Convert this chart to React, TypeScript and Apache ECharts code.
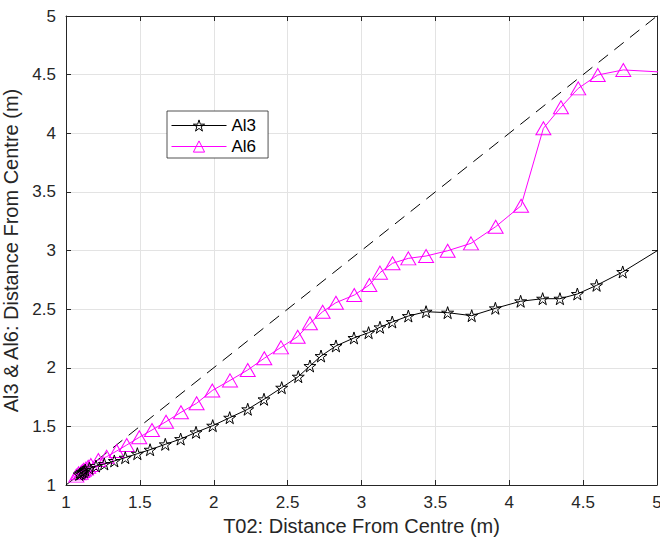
import React, { useEffect, useRef } from "react";
import * as echarts from "echarts";

const al3X = [1.09, 1.1, 1.11, 1.12, 1.13, 1.158, 1.203, 1.259, 1.327, 1.401, 1.483, 1.569, 1.672, 1.776, 1.88, 1.993, 2.108, 2.23, 2.34, 2.46, 2.572, 2.651, 2.726, 2.827, 2.949, 3.048, 3.125, 3.208, 3.317, 3.437, 3.583, 3.746, 3.906, 4.077, 4.226, 4.343, 4.461, 4.591, 4.768, 5.12];
const al3Y = [1.09, 1.1, 1.11, 1.115, 1.128, 1.142, 1.162, 1.179, 1.205, 1.233, 1.267, 1.301, 1.347, 1.392, 1.449, 1.506, 1.574, 1.646, 1.731, 1.83, 1.924, 2.015, 2.1, 2.186, 2.254, 2.299, 2.345, 2.39, 2.441, 2.478, 2.47, 2.444, 2.507, 2.567, 2.589, 2.589, 2.629, 2.703, 2.817, 3.09];

const al6X = [1.07, 1.085, 1.1, 1.11, 1.12, 1.135, 1.15, 1.168, 1.219, 1.275, 1.343, 1.411, 1.496, 1.582, 1.677, 1.778, 1.884, 1.99, 2.11, 2.23, 2.342, 2.455, 2.568, 2.651, 2.737, 2.827, 2.951, 3.053, 3.125, 3.21, 3.317, 3.437, 3.583, 3.741, 3.908, 4.08, 4.231, 4.35, 4.467, 4.599, 4.772, 5.2];
const al6Y = [1.08, 1.1, 1.105, 1.12, 1.13, 1.14, 1.155, 1.171, 1.213, 1.241, 1.29, 1.341, 1.407, 1.469, 1.54, 1.62, 1.697, 1.806, 1.892, 1.981, 2.081, 2.174, 2.265, 2.379, 2.478, 2.555, 2.62, 2.706, 2.811, 2.891, 2.933, 2.953, 2.998, 3.061, 3.203, 3.382, 4.042, 4.222, 4.383, 4.497, 4.54, 4.51];

const refX = [1, 5];
const refY = [1, 5];

const axisMin = 1;
const axisMax = 5;
const tickStep = 0.5;

const seriesNames = ["Al3", "Al6"];
const xTitle = "T02: Distance From Centre (m)";
const yTitle = "Al3 & Al6: Distance From Centre (m)";

const STAR =
  "path://M50,0 L61.2,34.5 L97.6,34.5 L68.2,55.9 L79.4,90.5 L50,69.1 L20.6,90.5 L31.8,55.9 L2.4,34.5 L38.8,34.5 Z";

const FONT = "Liberation Sans, Arial, Helvetica, sans-serif";
const AXIS_COLOR = "#262626";
const CLEAR = "rgba(255,255,255,0)";

export default function App() {
  const ref = useRef<HTMLDivElement>(null);

  useEffect(() => {
    if (!ref.current) return;
    const chart = echarts.init(ref.current, undefined, { renderer: "svg" });
    const zip = (xs: number[], ys: number[]) => xs.map((x, i) => [x, ys[i]]);

    const baseAxis = {
      type: "value" as const,
      min: axisMin,
      max: axisMax,
      interval: tickStep,
    };

    chart.setOption({
      animation: false,
      backgroundColor: "#ffffff",
      textStyle: { fontFamily: FONT },
      grid: {
        left: 66,
        right: 3,
        top: 16,
        bottom: 52,
        containLabel: false,
        outerBoundsMode: "none",
      },
      legend: {
        data: [
          {
            name: seriesNames[0],
            itemStyle: { color: CLEAR, borderColor: "#000", borderWidth: 1 },
            lineStyle: { color: "#000", width: 1 },
          },
          {
            name: seriesNames[1],
            itemStyle: { color: CLEAR, borderColor: "#ff00ff", borderWidth: 1 },
            lineStyle: { color: "#ff00ff", width: 1 },
          },
        ],
        orient: "vertical",
        left: 167,
        top: 111,
        padding: [6, 12, 3, 4],
        itemWidth: 55,
        itemHeight: 14,
        itemGap: 4,
        backgroundColor: "#ffffff",
        borderColor: AXIS_COLOR,
        borderWidth: 0.8,
        textStyle: { fontSize: 17, color: "#000", fontFamily: FONT },
      },
      xAxis: [
        {
          ...baseAxis,
          position: "bottom",
          name: xTitle,
          nameLocation: "middle",
          nameGap: 30,
          nameTextStyle: { fontSize: 20, color: AXIS_COLOR, fontFamily: FONT },
          axisLine: { show: true, lineStyle: { color: AXIS_COLOR, width: 1 } },
          axisTick: { show: true, inside: true, length: 5, lineStyle: { color: AXIS_COLOR } },
          axisLabel: { fontSize: 17, color: AXIS_COLOR, margin: 9, fontFamily: FONT },
          splitLine: { show: true, lineStyle: { color: "#e3e3e3", width: 1 } },
        },
        {
          ...baseAxis,
          position: "top",
          axisLine: { show: true, onZero: false, lineStyle: { color: AXIS_COLOR, width: 1 } },
          axisTick: { show: true, inside: true, length: 5, lineStyle: { color: AXIS_COLOR } },
          axisLabel: { show: false },
          splitLine: { show: false },
        },
      ],
      yAxis: [
        {
          ...baseAxis,
          position: "left",
          name: yTitle,
          nameLocation: "middle",
          nameGap: 38,
          nameTextStyle: { fontSize: 20, color: AXIS_COLOR, fontFamily: FONT },
          axisLine: { show: true, lineStyle: { color: AXIS_COLOR, width: 1 } },
          axisTick: { show: true, inside: true, length: 5, lineStyle: { color: AXIS_COLOR } },
          axisLabel: { fontSize: 17, color: AXIS_COLOR, margin: 10, fontFamily: FONT },
          splitLine: { show: true, lineStyle: { color: "#e3e3e3", width: 1 } },
        },
        {
          ...baseAxis,
          position: "right",
          axisLine: { show: true, onZero: false, lineStyle: { color: AXIS_COLOR, width: 1 } },
          axisTick: { show: true, inside: true, length: 5, lineStyle: { color: AXIS_COLOR } },
          axisLabel: { show: false },
          splitLine: { show: false },
        },
      ],
      series: [
        {
          name: "ref",
          type: "line",
          data: zip(refX, refY),
          showSymbol: false,
          symbol: "none",
          lineStyle: { color: "#000", width: 1, type: [12, 8] },
          silent: true,
          z: 1,
        },
        {
          name: seriesNames[0],
          type: "line",
          data: zip(al3X, al3Y),
          symbol: STAR,
          symbolSize: 12,
          clip: true,
          lineStyle: { color: "#000", width: 1 },
          itemStyle: { color: CLEAR, borderColor: "#000", borderWidth: 1 },
          z: 3,
        },
        {
          name: seriesNames[1],
          type: "line",
          data: zip(al6X, al6Y),
          symbol: "triangle",
          symbolSize: [15, 13],
          clip: true,
          lineStyle: { color: "#ff00ff", width: 1 },
          itemStyle: { color: CLEAR, borderColor: "#ff00ff", borderWidth: 1 },
          z: 2,
        },
      ],
    });

    return () => chart.dispose();
  }, []);

  return (
    <div
      ref={ref}
      style={{ position: "absolute", left: 0, top: 0, width: 660, height: 537 }}
    />
  );
}
